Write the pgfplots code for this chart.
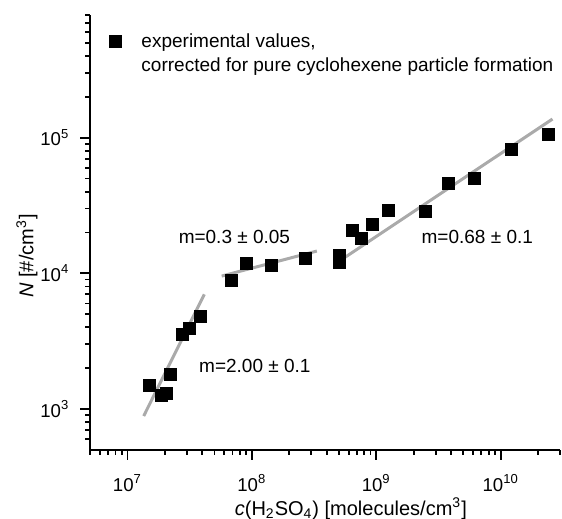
\documentclass[border=0pt]{standalone}
\usepackage{pgfplots}
\pgfplotsset{compat=1.18}
\usepackage{fontspec}
\setmainfont{Liberation Sans}
\definecolor{fitgray}{RGB}{170,170,170}
\begin{document}
\fontsize{9.5}{11.5}\selectfont
\begin{tikzpicture}
\useasboundingbox (-45pt,-34.5pt) rectangle (236pt,225pt);
\begin{axis}[
 scale only axis, width=235pt, height=217.5pt,
 xmode=log, ymode=log,
 xmin=5e6, xmax=3e10, ymin=500, ymax=8e5,
 axis x line*=bottom, axis y line*=left,
 axis line style={line width=1pt, black},
 tick align=outside,
 major tick length=5pt, minor tick length=2.5pt,
 every tick/.style={black, line width=0.9pt},
 xtick={1e7,1e8,1e9,1e10},
 xticklabels={10\textsuperscript{7},10\textsuperscript{8},10\textsuperscript{9},10\textsuperscript{10}},
 minor xtick={5e6,6e6,7e6,8e6,9e6,2e7,3e7,4e7,5e7,6e7,7e7,8e7,9e7,2e8,3e8,4e8,5e8,6e8,7e8,8e8,9e8,2e9,3e9,4e9,5e9,6e9,7e9,8e9,9e9,2e10,3e10},
 ytick={1e3,1e4,1e5},
 yticklabels={10\textsuperscript{3},10\textsuperscript{4},10\textsuperscript{5}},
 minor ytick={600,700,800,900,2e3,3e3,4e3,5e3,6e3,7e3,8e3,9e3,2e4,3e4,4e4,5e4,6e4,7e4,8e4,9e4,2e5,3e5,4e5,5e5,6e5,7e5,8e5},
 ticklabel style={font=\fontsize{9.3}{10}\selectfont},
 xticklabel style={yshift=-4pt},
 yticklabel style={xshift=-2pt},
 xlabel={\textit{c}(H\textsubscript{2}SO\textsubscript{4}) [molecules/cm\textsuperscript{3}]},
 ylabel={\textit{N} [\#/cm\textsuperscript{3}]},
 every axis x label/.style={at={(axis description cs:0.555,-0.135)}, anchor=center, font=\fontsize{10}{12}\selectfont},
 every axis y label/.style={at={(axis description cs:-0.134,0.446)}, rotate=90, anchor=center, font=\fontsize{10}{12}\selectfont},
 legend cell align=left,
 legend style={draw=none, fill=none, at={(axis description cs:0,1)}, anchor=north west, xshift=1pt, yshift=-5pt, font=\fontsize{9.5}{11.5}\selectfont, row sep=0pt, column sep=8pt},
]
\addplot[only marks, mark=square*, mark size=3pt, black] coordinates {
(1.51e7,1500) (1.86e7,1267) (2.05e7,1303) (2.21e7,1800) (2.74e7,3540) (3.13e7,3960) (3.84e7,4850)
(6.87e7,8890) (9.06e7,11900) (1.43e8,11450) (2.71e8,12800)
(5.06e8,12050) (5.06e8,13550) (6.39e8,20700) (7.54e8,18000) (9.35e8,22800) (1.26e9,29000)
(2.47e9,28600) (3.77e9,45700) (6.19e9,50300) (1.22e10,81700) (2.42e10,104800)
};
\addlegendentry{experimental values,}
\addlegendimage{empty legend}
\addlegendentry{corrected for pure cyclohexene particle formation}
\addplot[fitgray, line width=1.5pt, forget plot] coordinates {(1.35e7,889) (4.15e7,7010)};
\addplot[fitgray, line width=1.5pt, forget plot] coordinates {(5.72e7,9550) (3.33e8,14600)};
\addplot[fitgray, line width=1.5pt, forget plot] coordinates {(4.70e8,11780) (2.61e10,137000)};
\node[font=\fontsize{9.5}{11.5}\selectfont] at (axis cs:7.24e7,18400) {m=0.3 ± 0.05};
\node[font=\fontsize{9.5}{11.5}\selectfont] at (axis cs:1.057e8,2070) {m=2.00 ± 0.1};
\node[font=\fontsize{9.5}{11.5}\selectfont] at (axis cs:6.49e9,18400) {m=0.68 ± 0.1};
\end{axis}
\end{tikzpicture}
\end{document}
